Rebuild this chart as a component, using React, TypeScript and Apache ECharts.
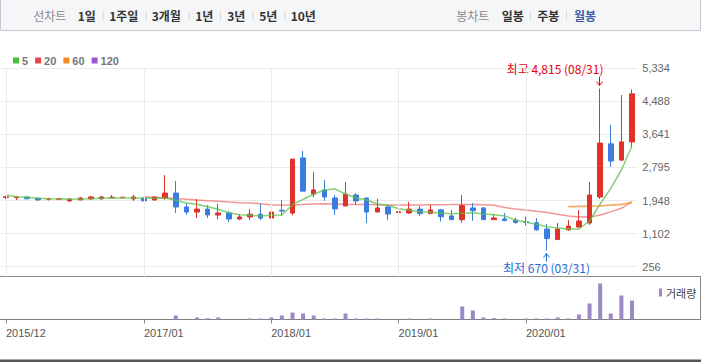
import React, { useEffect, useRef } from "react";
import * as echarts from "echarts";

const months = [
  "2015/12",
  "2016/01", "2016/02", "2016/03", "2016/04", "2016/05", "2016/06", "2016/07", "2016/08", "2016/09", "2016/10", "2016/11", "2016/12",
  "2017/01", "2017/02", "2017/03", "2017/04", "2017/05", "2017/06", "2017/07", "2017/08", "2017/09", "2017/10", "2017/11", "2017/12",
  "2018/01", "2018/02", "2018/03", "2018/04", "2018/05", "2018/06", "2018/07", "2018/08", "2018/09", "2018/10", "2018/11", "2018/12",
  "2019/01", "2019/02", "2019/03", "2019/04", "2019/05", "2019/06", "2019/07", "2019/08", "2019/09", "2019/10", "2019/11", "2019/12",
  "2020/01", "2020/02", "2020/03", "2020/04", "2020/05", "2020/06", "2020/07", "2020/08", "2020/09", "2020/10", "2020/11",
];

const opens = [
  2025, 2020, 2040, 2010, 1985, 1985, 1940, 1965, 1990, 1995, 2020, 2020, 1990,
  2015, 1965, 2015, 2140, 1785, 1655, 1730, 1580, 1630, 1475, 1530, 1600,
  1500, 1700, 1630, 3040, 2115, 2220, 2015, 1810, 2090, 2015, 1655, 1785,
  1640, 1630, 1730, 1615, 1710, 1555, 1460, 1760, 1760, 1460, 1480, 1450,
  1405, 1380, 1220, 950, 1200, 1270, 1375, 2040, 3400, 2985, 3450,
];
const closes = [
  2045, 2040, 1995, 1965, 1995, 1995, 1990, 2015, 2040, 2040, 2035, 2035, 2040,
  1940, 2040, 2140, 1785, 1655, 1730, 1580, 1630, 1475, 1530, 1600, 1500,
  1655, 1680, 3010, 2190, 2220, 2040, 1735, 2115, 1940, 1655, 1760, 1605,
  1665, 1730, 1615, 1710, 1535, 1460, 1820, 1690, 1460, 1505, 1435, 1385,
  1395, 1200, 975, 1220, 1295, 1425, 2090, 3420, 2960, 3450, 4680,
];
const lows = [
  1985, 1965, 1975, 1945, 1950, 1955, 1920, 1965, 1965, 1965, 2015, 2015, 1940,
  1935, 1940, 1965, 1630, 1580, 1500, 1500, 1475, 1400, 1450, 1450, 1450,
  1500, 1555, 1580, 2190, 2040, 1940, 1580, 1810, 1835, 1375, 1655, 1450,
  1510, 1610, 1555, 1615, 1410, 1460, 1380, 1430, 1460, 1460, 1435, 1355,
  1305, 1175, 670, 950, 1175, 1270, 1325, 1990, 2810, 2960, 3320,
];
const highs = [
  2075, 2070, 2045, 2015, 2020, 2015, 1995, 2040, 2065, 2065, 2090, 2040, 2090,
  2020, 2045, 2600, 2450, 1890, 1990, 1835, 1865, 1680, 1600, 1730, 1860,
  1810, 1965, 3010, 3220, 2680, 2475, 2090, 2425, 2140, 2015, 1990, 1835,
  1760, 1910, 1810, 1835, 1735, 1710, 2090, 1885, 1785, 1605, 1630, 1510,
  1535, 1500, 1350, 1375, 1450, 1705, 2425, 4815, 3885, 4650, 4790,
];

const ma5 = [
  2091, 2048, 2033, 2007, 1997, 1989, 1981, 1989, 1997, 2007, 2015, 2015, 2015,
  2007, 2007, 2015, 1956, 1887, 1853, 1792, 1725, 1638, 1587, 1572, 1554,
  1572, 1579, 1843, 1981, 2109, 2219, 2245, 2117, 2015, 1963, 1861, 1828,
  1741, 1700, 1664, 1649, 1631, 1613, 1623, 1638, 1605, 1587, 1554, 1452,
  1393, 1341, 1280, 1247, 1221, 1221, 1426, 1861, 2263, 2731, 3346,
];
const ma20 = [
  null, null, null, null, null, null, null, null, null, null, null, null, null,
  2048, 2035, 2022, 2000, 1985, 1963, 1945, 1930, 1910, 1895, 1887, 1865,
  1843, 1830, 1835, 1850, 1860, 1865, 1860, 1853, 1850, 1845, 1840, 1835,
  1835, 1835, 1838, 1840, 1842, 1845, 1850, 1848, 1840, 1830, 1770, 1735,
  1705, 1675, 1645, 1600, 1555, 1525, 1525, 1580, 1660, 1750, 1915,
];
const ma60 = [
  null, null, null, null, null, null, null, null, null, null, null, null, null,
  null, null, null, null, null, null, null, null, null, null, null, null,
  null, null, null, null, null, null, null, null, null, null, null, null,
  null, null, null, null, null, null, null, null, null, null, null, null,
  null, null, null, null, 1795, 1800, 1805, 1815, 1830, 1850, 1900,
];
const ma120: (number | null)[] = months.map(() => null);

const volumes = [
  0, 0, 0, 0, 0, 0, 0, 0, 0, 0, 0, 0, 0,
  0, 0, 0, 400, 0, 200, 130, 200, 0, 0, 100, 100,
  200, 400, 700, 600, 400, 100, 100, 600, 100, 100, 100, 0,
  0, 100, 0, 100, 0, 0, 1300, 900, 200, 130, 100, 0,
  100, 100, 100, 200, 100, 500, 1600, 3600, 600, 2400, 1900,
];

const yTickLabels = ["256", "1,102", "1,948", "2,795", "3,641", "4,488", "5,334"];
const yMin = 256;
const yMax = 5334;
const xTickLabels = ["2015/12", "2017/01", "2018/01", "2019/01", "2020/01"];

const highMark = { month: "2020/08", value: 4815, date: "08/31" };
const lowMark = { month: "2020/03", value: 670, date: "03/31" };

const lineLegend = [
  { name: "5", color: "#4cbb3a" },
  { name: "20", color: "#e84444" },
  { name: "60", color: "#f5891f" },
  { name: "120", color: "#9b59d0" },
];

const topLeftItems = ["1일", "1주일", "3개월", "1년", "3년", "5년", "10년"];
const topLeftCenters = [86.8, 123.8, 166.3, 204.2, 236.3, 268.3, 303.3];
const topLeftSeps = [102.7, 145.7, 188.7, 220, 252.3, 284.3];
const topRightItems = ["일봉", "주봉", "월봉"];
const topRightCenters = [512.8, 548.3, 585];
const topRightSeps = [530, 566];

const fmt = (n: number) => String(n).replace(/\B(?=(\d{3})+(?!\d))/g, ",");

const KR = '"Noto Sans CJK KR", "Noto Sans", sans-serif';
const LAT = '"Liberation Sans", Arial, sans-serif';

const UP = "#e0312b";
const DOWN = "#3a7ddf";

const GRID_LEFT = 0.7;
const GRID_WIDTH = 636.6;

function baseGraphics() {
  const g: any[] = [];
  g.push({
    type: "rect",
    shape: { x: 0.5, y: -1, width: 700, height: 31.5 },
    style: { fill: "#f5f6f8", stroke: "#c6c9d0", lineWidth: 1 },
    silent: true,
  });
  g.push({
    type: "text",
    x: 49.8,
    y: 15.5,
    style: { text: "선차트", fill: "#8a8a8a", fontSize: 12, fontFamily: KR, align: "center", verticalAlign: "middle" },
  });
  topLeftItems.forEach((t, i) =>
    g.push({
      type: "text",
      x: topLeftCenters[i],
      y: 15.5,
      style: { text: t, fill: "#333", fontSize: 12, fontWeight: "bold", fontFamily: KR, align: "center", verticalAlign: "middle" },
    })
  );
  topLeftSeps.concat(topRightSeps).forEach((x) =>
    g.push({
      type: "line",
      shape: { x1: x + 0.5, y1: 11, x2: x + 0.5, y2: 20 },
      style: { stroke: "#d4d6db", lineWidth: 1 },
    })
  );
  g.push({
    type: "text",
    x: 472.8,
    y: 15.5,
    style: { text: "봉차트", fill: "#8a8a8a", fontSize: 12, fontFamily: KR, align: "center", verticalAlign: "middle" },
  });
  topRightItems.forEach((t, i) =>
    g.push({
      type: "text",
      x: topRightCenters[i],
      y: 15.5,
      style: {
        text: t,
        fill: i === 2 ? "#3d5da8" : "#333",
        fontSize: 12,
        fontWeight: "bold",
        fontFamily: KR,
        align: "center",
        verticalAlign: "middle",
      },
    })
  );
  // volume pane frame
  g.push({ type: "line", shape: { x1: 0, y1: 276.5, x2: 701, y2: 276.5 }, style: { stroke: "#8a8a8a", lineWidth: 1 }, silent: true });
  g.push({ type: "line", shape: { x1: 0, y1: 319.5, x2: 701, y2: 319.5 }, style: { stroke: "#808080", lineWidth: 1 }, silent: true });
  g.push({ type: "line", shape: { x1: 700.5, y1: 276.5, x2: 700.5, y2: 319.5 }, style: { stroke: "#8a8a8a", lineWidth: 1 }, silent: true });
  g.push({ type: "rect", shape: { x: 0, y: 359.5, width: 701, height: 3 }, style: { fill: "#555" }, silent: true });
  return g;
}

function buildOption() {
  const candleData = months.map((_, i) => [opens[i], closes[i], lows[i], highs[i]]);
  const yInterval = 846.34;
  const showTick = (_i: number, v: string) => xTickLabels.includes(v);
  return {
    animation: false,
    backgroundColor: "#fff",
    legend: [
      {
        data: lineLegend.map((l) => ({ name: l.name, itemStyle: { color: l.color, opacity: 1 } })),
        left: 8,
        top: 50,
        icon: "rect",
        itemWidth: 6,
        itemHeight: 6,
        itemGap: 7,
        selectedMode: false,
        textStyle: { fontSize: 11, fontWeight: "bold", color: "#777", fontFamily: LAT, padding: [0, 0, 0, -2] },
      },
      {
        data: [{ name: "거래량", itemStyle: { color: "#9b88c5" } }],
        left: 654,
        top: 282,
        icon: "rect",
        itemWidth: 3,
        itemHeight: 8,
        selectedMode: false,
        textStyle: { fontSize: 11, color: "#444", fontFamily: KR, padding: [0, 0, 0, -1] },
      },
    ],
    grid: [
      { left: GRID_LEFT, width: GRID_WIDTH, top: 68.3, height: 198.4 },
      { left: GRID_LEFT, width: GRID_WIDTH, top: 276.5, height: 43 },
      { left: GRID_LEFT, width: GRID_WIDTH, top: 68.3, height: 208.2 },
    ],
    xAxis: [
      {
        type: "category",
        gridIndex: 0,
        data: months,
        boundaryGap: true,
        axisLine: { show: false },
        axisTick: { show: false },
        axisLabel: { show: false },
        splitLine: { show: false },
      },
      {
        type: "category",
        gridIndex: 1,
        data: months,
        boundaryGap: true,
        axisLine: { show: false },
        axisTick: { show: true, alignWithLabel: true, interval: showTick, length: 4, lineStyle: { color: "#888" } },
        axisLabel: {
          show: true,
          interval: showTick,
          align: "left",
          margin: 8,
          fontSize: 11,
          color: "#555",
          fontFamily: LAT,
        },
        splitLine: { show: false },
      },
      {
        type: "category",
        gridIndex: 2,
        data: months,
        boundaryGap: true,
        show: false,
      },
    ],
    yAxis: [
      {
        type: "value",
        gridIndex: 0,
        position: "right",
        min: yMin,
        max: yMax,
        interval: yInterval,
        axisLine: { show: false },
        axisTick: { show: false },
        splitLine: { show: true, lineStyle: { color: "#ebebeb", width: 1 } },
        axisLabel: {
          margin: 5,
          fontSize: 11,
          color: "#666",
          fontFamily: LAT,
          formatter: (v: number) => {
            const idx = Math.round((v - yMin) / ((yMax - yMin) / 6));
            return yTickLabels[Math.max(0, Math.min(6, idx))];
          },
        },
      },
      {
        type: "value",
        gridIndex: 1,
        min: 0,
        max: 4300,
        show: false,
        splitLine: { show: false },
      },
      {
        type: "value",
        gridIndex: 2,
        min: 0,
        max: 1,
        show: false,
        splitLine: { show: false },
      },
    ],
    series: [
      {
        type: "line",
        xAxisIndex: 2,
        yAxisIndex: 2,
        data: [],
        silent: true,
        markLine: {
          silent: true,
          symbol: ["none", "none"],
          label: { show: false },
          lineStyle: { color: "#ebebeb", type: "solid", width: 1 },
          data: xTickLabels.map((m) => ({ xAxis: m })),
        },
        z: 0,
      },
      {
        type: "candlestick",
        name: "캔들",
        xAxisIndex: 0,
        yAxisIndex: 0,
        data: candleData,
        barWidth: 5,
        itemStyle: { color: UP, color0: DOWN, borderColor: UP, borderColor0: DOWN, borderWidth: 1 },
        z: 3,
      },
      {
        type: "line",
        name: "5",
        xAxisIndex: 0,
        yAxisIndex: 0,
        data: ma5,
        symbol: "none",
        color: "#4cbb3a",
        lineStyle: { color: "#5cc248", width: 1.5, opacity: 0.75 },
        z: 4,
      },
      {
        type: "line",
        name: "20",
        xAxisIndex: 0,
        yAxisIndex: 0,
        data: ma20,
        symbol: "none",
        color: "#e84444",
        lineStyle: { color: "#ec5050", width: 1.5, opacity: 0.6 },
        z: 2,
      },
      {
        type: "line",
        name: "60",
        xAxisIndex: 0,
        yAxisIndex: 0,
        data: ma60,
        symbol: "none",
        color: "#f5891f",
        lineStyle: { color: "#f5891f", width: 1.8, opacity: 0.7 },
        z: 2,
      },
      {
        type: "line",
        name: "120",
        xAxisIndex: 0,
        yAxisIndex: 0,
        data: ma120,
        symbol: "none",
        color: "#9b59d0",
        lineStyle: { color: "#9b59d0", width: 2, opacity: 0.7 },
        z: 2,
      },
      {
        type: "bar",
        name: "거래량",
        xAxisIndex: 1,
        yAxisIndex: 1,
        data: volumes,
        barWidth: 4,
        itemStyle: { color: "#9b88c5" },
      },
    ],
  };
}

export default function App() {
  const ref = useRef<HTMLDivElement>(null);
  useEffect(() => {
    document.body.style.margin = "0";
    const chart = echarts.init(ref.current!, null, { renderer: "svg" });
    chart.setOption(buildOption() as any);
    const hp = chart.convertToPixel({ gridIndex: 0 } as any, [highMark.month, highMark.value]) as number[];
    const lp = chart.convertToPixel({ gridIndex: 0 } as any, [lowMark.month, lowMark.value]) as number[];
    const g = baseGraphics();
    const RED = "#e60012";
    const BLUE = "#1d6ed6";
    if (hp && lp) {
      const hx = Math.round(hp[0]) - 0.5;
      const hy = hp[1];
      g.push({
        type: "text",
        x: hx + 4,
        y: hy - 19.6,
        style: {
          text: `최고 ${fmt(highMark.value)} (${highMark.date})`,
          fill: RED,
          fontSize: 12,
          fontFamily: KR,
          align: "right",
          verticalAlign: "middle",
        },
      });
      g.push({ type: "polyline", shape: { points: [[hx, hy - 12], [hx, hy - 3]] }, style: { stroke: RED, lineWidth: 1, fill: "none" } });
      g.push({
        type: "polyline",
        shape: { points: [[hx - 3, hy - 7], [hx, hy - 3], [hx + 3, hy - 7]] },
        style: { stroke: RED, lineWidth: 1, fill: "none" },
      });
      const lx = Math.round(lp[0]) - 0.5;
      const ly = lp[1];
      g.push({
        type: "text",
        x: lx,
        y: ly + 17.2,
        style: {
          text: `최저 ${fmt(lowMark.value)} (${lowMark.date})`,
          fill: BLUE,
          fontSize: 12,
          fontFamily: KR,
          align: "center",
          verticalAlign: "middle",
        },
      });
      g.push({ type: "polyline", shape: { points: [[lx, ly + 3], [lx, ly + 11]] }, style: { stroke: BLUE, lineWidth: 1, fill: "none" } });
      g.push({
        type: "polyline",
        shape: { points: [[lx - 3, ly + 7], [lx, ly + 3], [lx + 3, ly + 7]] },
        style: { stroke: BLUE, lineWidth: 1, fill: "none" },
      });
    }
    chart.setOption({ graphic: g } as any);
    return () => chart.dispose();
  }, []);
  return <div ref={ref} style={{ width: 701, height: 362 }} />;
}
